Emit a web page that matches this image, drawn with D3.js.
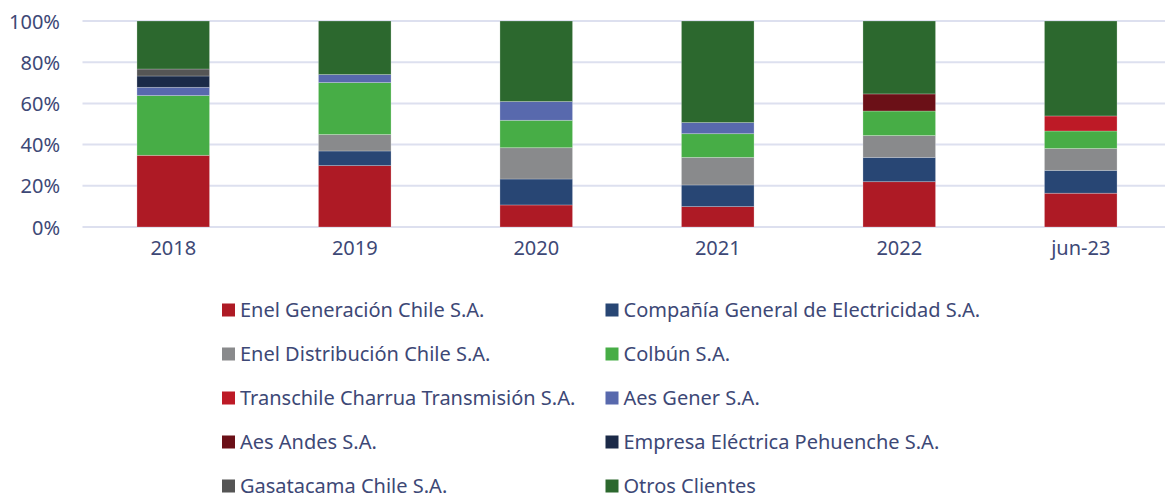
<!DOCTYPE html>
<html>
<head>
<meta charset="utf-8">
<script src="https://cdn.jsdelivr.net/npm/d3@7"></script>
<style>
  body { margin: 0; background: #fff; }
  text { font-family: "Noto Sans", sans-serif; fill: #3d4876; }
</style>
</head>
<body>
<div id="chart"></div>
<script>
/* DATA */
const periods = ["2018", "2019", "2020", "2021", "2022", "jun-23"];
const companies = [
  "Enel Generación Chile S.A.",
  "Compañía General de Electricidad S.A.",
  "Enel Distribución Chile S.A.",
  "Colbún S.A.",
  "Transchile Charrua Transmisión S.A.",
  "Aes Gener S.A.",
  "Aes Andes S.A.",
  "Empresa Eléctrica Pehuenche S.A.",
  "Gasatacama Chile S.A.",
  "Otros Clientes"
];
// share (%) per company, one value per period
const enelGeneracion = [34.8, 29.8, 10.7, 9.9, 22.0, 16.4];
const cge            = [0, 7.1, 12.6, 10.5, 11.8, 11.1];
const enelDistrib    = [0, 8.0, 15.2, 13.4, 10.6, 10.6];
const colbun         = [29.0, 25.2, 13.3, 11.5, 11.9, 8.5];
const transchile     = [0, 0, 0, 0, 0, 7.3];
const aesGener       = [4.0, 3.9, 9.1, 5.4, 0, 0];
const aesAndes       = [0, 0, 0, 0, 8.3, 0];
const pehuenche      = [5.5, 0, 0, 0, 0, 0];
const gasatacama     = [3.4, 0, 0, 0, 0, 0];
const otros          = [23.3, 26.0, 39.1, 49.3, 35.4, 46.1];
const yTicks = [0, 20, 40, 60, 80, 100];

const seriesValues = [enelGeneracion, cge, enelDistrib, colbun, transchile,
  aesGener, aesAndes, pehuenche, gasatacama, otros];
const colors = ["#ae1a25", "#284674", "#898a8c", "#47ad46", "#bd1a26",
  "#5869ad", "#6b1017", "#1b2a48", "#555555", "#2c682e"];

/* LAYOUT */
const width = 1165, height = 498;
const margin = { top: 21, left: 82.5, right: -6.5 };
const plotBottom = 227;
const fontSize = 20;

const table = periods.map((p, i) => {
  const row = { period: p };
  companies.forEach((c, j) => { row[c] = seriesValues[j][i]; });
  return row;
});

const svg = d3.select("#chart").append("svg")
  .attr("width", width)
  .attr("height", height);

const xScale = d3.scaleBand()
  .domain(periods)
  .range([margin.left, width - margin.right])
  .paddingInner(0.6)
  .paddingOuter(0.3);

const yScale = d3.scaleLinear()
  .domain([0, 100])
  .range([plotBottom, margin.top]);

const color = d3.scaleOrdinal().domain(companies).range(colors);

// gridlines
svg.append("g")
  .selectAll("line")
  .data(yTicks)
  .join("line")
  .attr("x1", margin.left)
  .attr("x2", width)
  .attr("y1", d => yScale(d))
  .attr("y2", d => yScale(d))
  .attr("stroke", "#dde0ef")
  .attr("stroke-width", 2);

// y axis labels
const yAxis = d3.axisLeft(yScale)
  .tickValues(yTicks)
  .tickFormat(d => d + "%")
  .tickSize(0)
  .tickPadding(0);

svg.append("g")
  .attr("transform", `translate(60,0)`)
  .call(yAxis)
  .call(g => g.select(".domain").remove())
  .selectAll("text")
  .attr("font-size", fontSize)
  .attr("font-family", null)
  .attr("dy", "0.35em");

// stacked bars
const stack = d3.stack().keys(companies);
const layers = stack(table);

svg.append("g")
  .selectAll("g")
  .data(layers)
  .join("g")
  .attr("fill", d => color(d.key))
  .selectAll("rect")
  .data(d => d.filter(s => s[1] - s[0] > 0))
  .join("rect")
  .attr("x", d => xScale(d.data.period))
  .attr("width", xScale.bandwidth())
  .attr("y", d => yScale(d[1]))
  .attr("height", d => yScale(d[0]) - yScale(d[1]))
  .attr("stroke", "rgba(255,255,255,0.3)")
  .attr("stroke-width", 0.8);

// x axis labels
const xAxis = d3.axisBottom(xScale).tickSize(0).tickPadding(0);
svg.append("g")
  .attr("transform", `translate(0,${plotBottom})`)
  .call(xAxis)
  .call(g => g.select(".domain").remove())
  .selectAll("text")
  .attr("font-size", fontSize)
  .attr("font-family", null)
  .attr("dy", "1.4em");

// legend
const legend = svg.append("g")
  .selectAll("g")
  .data(companies)
  .join("g")
  .attr("transform", (d, i) => `translate(${i % 2 === 0 ? 222 : 605.5},${303.5 + Math.floor(i / 2) * 44})`);

legend.append("rect")
  .attr("width", 13)
  .attr("height", 13)
  .attr("fill", d => color(d));

legend.append("text")
  .attr("x", 18)
  .attr("y", 13)
  .attr("font-size", fontSize)
  .text(d => d);
</script>
</body>
</html>
